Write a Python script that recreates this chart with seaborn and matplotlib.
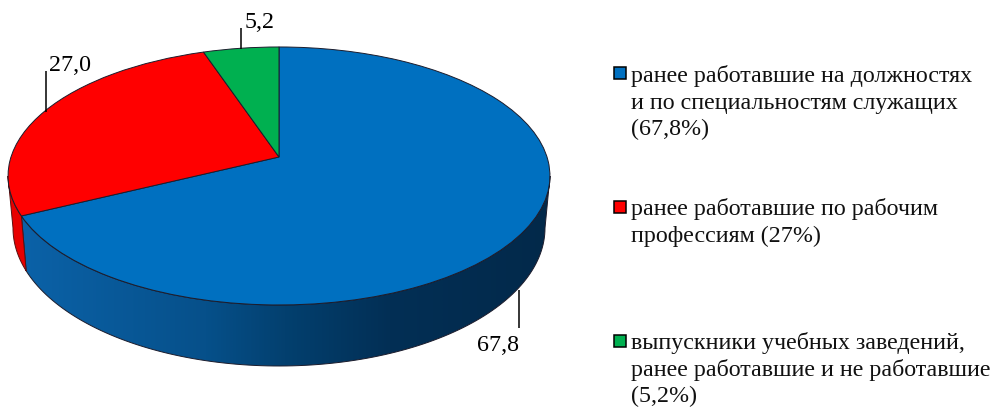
import numpy as np
import matplotlib
matplotlib.use("Agg")
import matplotlib.pyplot as plt
import seaborn as sns
from matplotlib.colors import LinearSegmentedColormap
from matplotlib.patches import PathPatch, Rectangle
from matplotlib.path import Path
from matplotlib.transforms import Transform

values = [67.8, 27.0, 5.2]
legend_lines = [
    ["ранее работавшие на должностях", "и по специальностям служащих", "(67,8%)"],
    ["ранее работавшие по рабочим", "профессиям (27%)"],
    ["выпускники учебных заведений,", "ранее работавшие и не работавшие", "(5,2%)"],
]
colors = ["#0070c0", "#ff0000", "#00b050"]

sns.set_theme(style="white")
plt.rcParams["font.family"] = ["Liberation Serif", "DejaVu Serif"]
palette = sns.color_palette(colors)

W, H = 994, 407
CX, CY, K, A, B = 279.0, 157.0, 0.147, 268.0, 126.2
TOP = (279.0, 176.0, 271.0, 129.0)
BOT = (279.0, 228.0, 266.0, 138.0)
EDGE = "#1c1c2c"


def project(u, v):
    w = 1 + K * v
    return CX + A * u / w, CY - B * v / w


class Perspective(Transform):
    input_dims = 2
    output_dims = 2
    is_separable = False
    has_inverse = False

    def transform_non_affine(self, xy):
        xy = np.asarray(xy, float)
        x, y = project(xy[:, 0], xy[:, 1])
        return np.column_stack([x, y])


def wall_path(t0, t1):
    ts = np.radians(np.linspace(t0, t1, 120))
    upper = np.column_stack([TOP[0] + TOP[2] * np.cos(ts), TOP[1] + TOP[3] * np.sin(ts)])
    lower = np.column_stack([BOT[0] + BOT[2] * np.cos(ts), BOT[1] + BOT[3] * np.sin(ts)])
    return Path(np.vstack([upper, lower[::-1], upper[:1]]), closed=True)


fig = plt.figure(figsize=(W / 100, H / 100), dpi=100, facecolor="white")
ax = fig.add_axes([0, 0, 1, 1])

wedges, _ = ax.pie(values, colors=palette, startangle=90, counterclock=False,
                   wedgeprops=dict(edgecolor=EDGE, linewidth=0.7, zorder=3))
persp = Perspective()
for w in wedges:
    w.set_transform(persp + ax.transData)

# corner between the first and the second slice on the rim
ang = np.radians(90 - 360 * values[0] / sum(values))
corner_x, _cy = project(np.cos(ang), np.sin(ang))
t_corner = np.degrees(np.arccos((corner_x - TOP[0]) / TOP[2]))

blue_wall = wall_path(0, t_corner)
red_wall = wall_path(t_corner, 180)

cmap = LinearSegmentedColormap.from_list(
    "wall", [(0, "#0b62a8"), (0.35, "#06508a"), (0.5, "#03406f"), (0.7, "#022f55"), (1, "#03294a")])
img = ax.imshow(np.linspace(0, 1, 400)[None, :], extent=(20, 550, 370, 170),
                cmap=cmap, aspect="auto", zorder=1, interpolation="bilinear")
img.set_clip_path(PathPatch(blue_wall, transform=ax.transData))
ax.add_patch(PathPatch(blue_wall, facecolor="none", edgecolor=EDGE, lw=0.7, zorder=2))
ax.add_patch(PathPatch(red_wall, facecolor="#e80000", edgecolor="#5a1010", lw=0.7, zorder=2))

leaders = [((518.5, 290), (518.5, 328)), ((45.5, 71), (45.5, 112)), ((241, 28), (241, 49))]
label_pos = [(519, 351, "right"), (49, 71, "left"), (245, 28, "left")]
for v, seg, (lx, ly, ha) in zip(values, leaders, label_pos):
    ax.plot(*zip(*seg), color="black", lw=1.1, zorder=4, solid_capstyle="butt")
    ax.text(lx, ly, f"{v:.1f}".replace(".", ","), ha=ha, va="baseline",
            fontsize=17.3, color="black", zorder=5)

first_baselines = [82, 215.5, 349.5]
for lines, col, y0 in zip(legend_lines, palette, first_baselines):
    ax.add_patch(Rectangle((613.5, y0 - 15), 12, 12, facecolor=col,
                           edgecolor="black", lw=1.1, zorder=4))
    for i, line in enumerate(lines):
        ax.text(631, y0 + i * 26.5, line, ha="left", va="baseline",
                fontsize=17.3, color="#111111")

ax.set_aspect("auto")
ax.set_xlim(0, W)
ax.set_ylim(H, 0)
ax.axis("off")
fig.savefig("out.png", dpi=100, facecolor="white")
